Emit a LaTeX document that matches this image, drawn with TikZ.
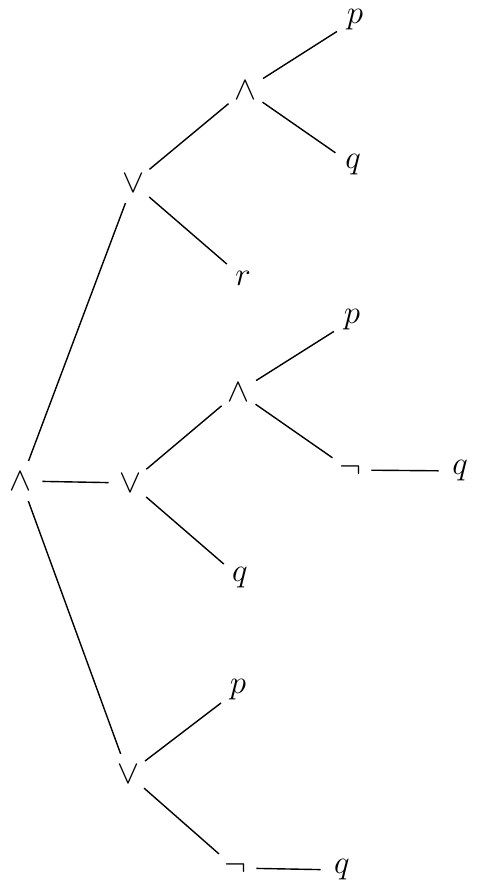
\documentclass[tikz,border=0pt]{standalone}
\usepackage{fix-cm}
\begin{document}
\begin{tikzpicture}[x=0.5pt,y=-0.5pt,
  sym/.style={circle,minimum size=21pt,inner sep=0pt,font=\fontsize{16.5}{19}\selectfont},
  edge/.style={line width=0.7pt,black}]
\useasboundingbox (0,0) rectangle (478,888);
\node[sym] (a0) at (21,481) {$\wedge$};
\node[sym] (b1) at (133,183) {$\vee$};
\node[sym] (c1) at (245,90) {$\wedge$};
\node[sym] (p1) at (355,20) {$p$};
\node[sym] (q1) at (353,165) {$q$};
\node[sym] (r1) at (243,278) {$r$};
\node[sym] (b2) at (130,483) {$\vee$};
\node[sym] (c2) at (238,392) {$\wedge$};
\node[sym] (p2) at (352,320) {$p$};
\node[sym] (n2) at (350,470) {$\neg$};
\node[sym] (q2) at (460,471) {$q$};
\node[sym] (q3) at (240,578) {$q$};
\node[sym] (b3) at (128,774) {$\vee$};
\node[sym] (p3) at (238,690) {$p$};
\node[sym] (n3) at (235,868) {$\neg$};
\node[sym] (q4) at (342,870) {$q$};
\draw[edge] (a0) -- (b1);
\draw[edge] (a0) -- (b2);
\draw[edge] (a0) -- (b3);
\draw[edge] (b1) -- (c1);
\draw[edge] (b1) -- (r1);
\draw[edge] (c1) -- (p1);
\draw[edge] (c1) -- (q1);
\draw[edge] (b2) -- (c2);
\draw[edge] (b2) -- (q3);
\draw[edge] (c2) -- (p2);
\draw[edge] (c2) -- (n2);
\draw[edge] (n2) -- (q2);
\draw[edge] (b3) -- (p3);
\draw[edge] (b3) -- (n3);
\draw[edge] (n3) -- (q4);
\end{tikzpicture}
\end{document}
